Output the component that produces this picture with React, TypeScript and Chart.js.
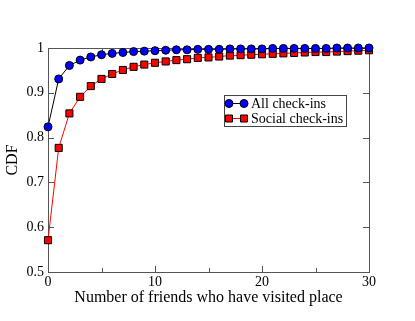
import React, { useEffect, useRef } from "react";
import { Chart, registerables } from "chart.js";

Chart.register(...registerables);

const friends: number[] = Array.from({ length: 31 }, (_, i) => i);
const allCheckins: number[] = [
  0.824, 0.931, 0.961, 0.973, 0.98, 0.985, 0.988, 0.99, 0.992, 0.993, 0.994,
  0.995, 0.996, 0.996, 0.997, 0.997, 0.997, 0.998, 0.998, 0.998, 0.998, 0.999,
  0.999, 0.999, 0.999, 0.999, 0.999, 1.0, 1.0, 1.0, 1.0,
];
const socialCheckins: number[] = [
  0.571, 0.777, 0.854, 0.891, 0.915, 0.931, 0.942, 0.951, 0.958, 0.963, 0.967,
  0.97, 0.973, 0.975, 0.978, 0.979, 0.981, 0.983, 0.984, 0.985, 0.986, 0.987,
  0.988, 0.989, 0.99, 0.991, 0.991, 0.992, 0.993, 0.994, 0.995,
];
const seriesNames: string[] = ["All check-ins", "Social check-ins"];
const xMajorTicks: number[] = [0, 10, 20, 30];
const xMinorTicks: number[] = [5, 15, 25];
const yTicks: number[] = [0.5, 0.6, 0.7, 0.8, 0.9, 1.0];

const SERIF = "'Liberation Serif', 'DejaVu Serif', serif";

const framePlugin = {
  id: "frame",
  beforeDatasetsDraw(chart: any) {
    const { ctx, chartArea: a, scales } = chart;
    ctx.save();
    ctx.strokeStyle = "#555";
    ctx.lineWidth = 1;
    ctx.strokeRect(Math.round(a.left) + 0.5, Math.round(a.top) + 0.5, Math.round(a.right - a.left), Math.round(a.bottom - a.top));
    ctx.beginPath();
    const tick = (vals: number[], len: number) => {
      for (const v of vals) {
        const x = Math.round(scales.x.getPixelForValue(v)) + 0.5;
        ctx.moveTo(x, a.bottom);
        ctx.lineTo(x, a.bottom - len);
        ctx.moveTo(x, a.top);
        ctx.lineTo(x, a.top + len);
      }
    };
    tick(xMajorTicks, 6);
    tick(xMinorTicks, 4);
    for (const v of yTicks) {
      const y = Math.round(scales.y.getPixelForValue(v)) + 0.5;
      ctx.moveTo(a.left, y);
      ctx.lineTo(a.left + 6, y);
      ctx.moveTo(a.right, y);
      ctx.lineTo(a.right - 6, y);
    }
    ctx.stroke();
    ctx.restore();
  },
};

const legendPlugin = {
  id: "customLegend",
  afterDraw(chart: any) {
    const { ctx } = chart;
    const bx = 224, by = 95, bw = 122, bh = 31;
    ctx.save();
    ctx.fillStyle = "#fff";
    ctx.fillRect(bx, by, bw, bh);
    ctx.strokeStyle = "#444";
    ctx.lineWidth = 1;
    ctx.strokeRect(bx + 0.5, by + 0.5, bw, bh);
    const ds = chart.data.datasets;
    ds.forEach((d: any, i: number) => {
      const y = by + 8.5 + i * 15;
      const x1 = bx + 5, x2 = bx + 20;
      ctx.strokeStyle = d.borderColor;
      ctx.lineWidth = 1;
      ctx.beginPath();
      ctx.moveTo(x1, y);
      ctx.lineTo(x2, y);
      ctx.stroke();
      for (const x of [x1, x2]) {
        ctx.fillStyle = d.pointBackgroundColor;
        ctx.strokeStyle = "#000";
        ctx.beginPath();
        if (d.pointStyle === "rect") {
          ctx.rect(x - 3.5, y - 3.5, 7, 7);
        } else {
          ctx.arc(x, y, 4, 0, Math.PI * 2);
        }
        ctx.fill();
        ctx.stroke();
      }
      ctx.fillStyle = "#000";
      ctx.font = `14px ${SERIF}`;
      ctx.textBaseline = "middle";
      ctx.fillText(d.label, bx + 27, y + 0.5);
    });
    ctx.restore();
  },
};

export default function App() {
  const ref = useRef<HTMLCanvasElement | null>(null);
  useEffect(() => {
    document.body.style.margin = "0";
    const canvas = ref.current!;
    const chart = new Chart(canvas, {
      type: "line",
      data: {
        datasets: [
          {
            label: seriesNames[0],
            data: friends.map((x, i) => ({ x, y: allCheckins[i] })),
            borderColor: "#000",
            borderWidth: 1,
            pointStyle: "circle",
            pointRadius: 4,
            pointBackgroundColor: "#0000ff",
            pointBorderColor: "#000",
            pointBorderWidth: 1,
            clip: false,
            order: 0,
          } as any,
          {
            label: seriesNames[1],
            data: friends.map((x, i) => ({ x, y: socialCheckins[i] })),
            borderColor: "#ff0000",
            borderWidth: 1,
            pointStyle: "rect",
            pointRadius: 5,
            pointBackgroundColor: "#ff0000",
            pointBorderColor: "#000",
            pointBorderWidth: 1,
            clip: false,
            order: 1,
          } as any,
        ],
      },
      options: {
        responsive: false,
        animation: false,
        devicePixelRatio: 1,
        layout: { padding: { top: 48, right: 46, left: 0, bottom: 0 } },
        plugins: { legend: { display: false }, tooltip: { enabled: false } },
        scales: {
          x: {
            type: "linear",
            min: 0,
            max: 30,
            afterBuildTicks: (s: any) => {
              s.ticks = xMajorTicks.map((v) => ({ value: v }));
            },
            grid: { display: false, drawTicks: false, tickLength: 0 },
            border: { display: false },
            ticks: {
              color: "#000",
              font: { family: SERIF, size: 14 },
              padding: 2,
              maxRotation: 0,
            },
            title: {
              display: true,
              text: "Number of friends who have visited place",
              color: "#000",
              font: { family: SERIF, size: 16 },
              padding: { top: 0, bottom: 14 },
            },
            afterFit: (s: any) => {
              s.height = 49;
            },
          },
          y: {
            type: "linear",
            min: 0.5,
            max: 1,
            afterBuildTicks: (s: any) => {
              s.ticks = yTicks.map((v) => ({ value: v }));
            },
            grid: { display: false, drawTicks: false, tickLength: 0 },
            border: { display: false },
            ticks: {
              color: "#000",
              font: { family: SERIF, size: 14 },
              padding: 4,
              callback: (v: any) => (Math.abs(v - 1) < 1e-9 ? "1" : Number(v).toFixed(1)),
            },
            title: {
              display: true,
              text: "CDF",
              color: "#000",
              font: { family: SERIF, size: 16 },
              padding: { top: 3, bottom: 3 },
            },
            afterFit: (s: any) => {
              s.width = 48;
            },
          },
        },
      },
      plugins: [framePlugin, legendPlugin],
    } as any);
    return () => chart.destroy();
  }, []);
  return <canvas ref={ref} width={415} height={321} style={{ display: "block" }} />;
}
